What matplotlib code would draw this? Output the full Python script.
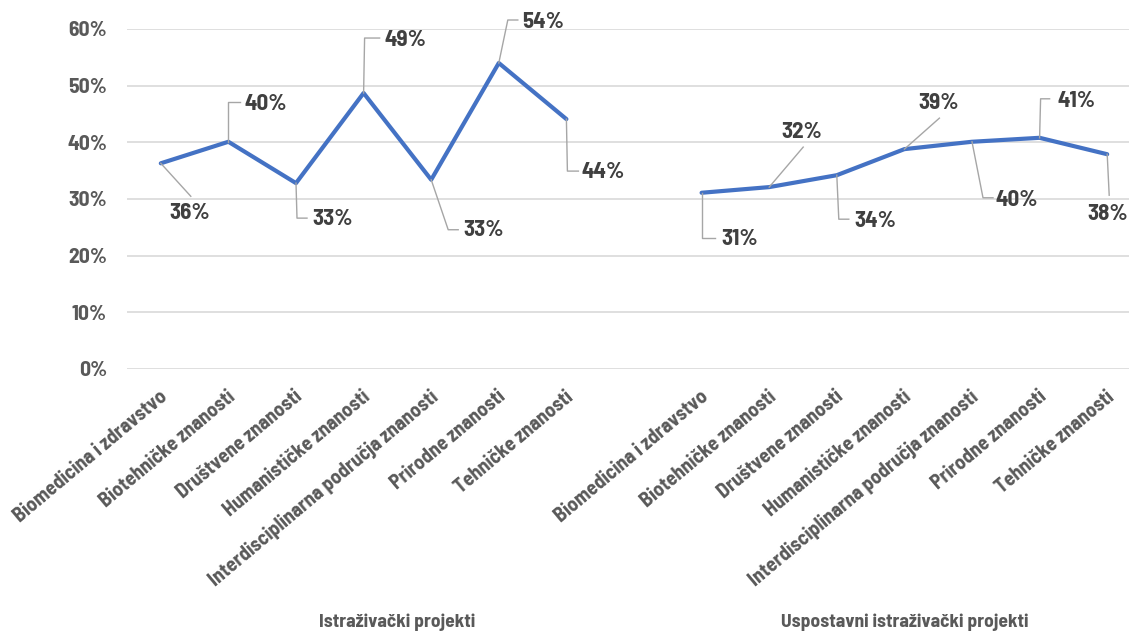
import numpy as np
import matplotlib
matplotlib.use("Agg")
import matplotlib.pyplot as plt
from matplotlib import font_manager
from matplotlib.transforms import Affine2D

# -------------------------------
# DATA
# -------------------------------
categories = ["Biomedicina i zdravstvo", "Biotehničke znanosti", "Društvene znanosti",
              "Humanističke znanosti", "Interdisciplinarna područja znanosti",
              "Prirodne znanosti", "Tehničke znanosti"]
groups = ["Istraživački projekti", "Uspostavni istraživački projekti"]
istrazivacki = [0.363, 0.401, 0.328, 0.487, 0.334, 0.540, 0.441]
uspostavni = [0.311, 0.321, 0.342, 0.388, 0.401, 0.408, 0.379]
y_ticks = [0, 0.1, 0.2, 0.3, 0.4, 0.5, 0.6]

# -------------------------------
# FONT
# -------------------------------
def pick_font(names):
    for n in names:
        try:
            font_manager.findfont(font_manager.FontProperties(family=n), fallback_to_default=False)
            return n
        except Exception:
            pass
    return "DejaVu Sans"

FONT = pick_font(["Barlow Semi Condensed", "Barlow Condensed", "Asap Condensed", "DejaVu Sans"])
plt.rcParams["font.family"] = [FONT, "DejaVu Sans"]
plt.rcParams["font.weight"] = "bold"

# -------------------------------
# LAYOUT / STYLE
# -------------------------------
W, H, DPI = 1129, 635, 100
PT = 72 / DPI  # points per pixel
fig = plt.figure(figsize=(W / DPI, H / DPI), dpi=DPI)
ax = fig.add_axes([127 / W, (H - 369) / H, 1014 / W, 340 / H])

line_color = "#4472C4"
grid_color = "#D9D9D9"
tick_color = "#595959"
label_color = "#404040"
leader_color = "#A6A6A6"

n = len(categories)
x1 = np.arange(n)
x2 = np.arange(n) + n + 1
ax.plot(x1, istrazivacki, color=line_color, lw=3, solid_capstyle="round", zorder=3)
ax.plot(x2, uspostavni, color=line_color, lw=3, solid_capstyle="round", zorder=3)

ax.set_xlim(-0.5, 2 * n + 0.5)
ax.set_ylim(0, 0.6)
ax.set_yticks(y_ticks)
ax.set_yticklabels([f"{int(round(t * 100))}%" for t in y_ticks])
ax.yaxis.grid(True, color=grid_color, lw=1.2)
ax.set_axisbelow(True)
for s in ax.spines.values():
    s.set_visible(False)
ax.tick_params(axis="y", length=0, pad=20 * PT, labelsize=15.5, labelcolor=tick_color)
ax.set_xticks([])

# category labels (rotated) + group labels
for xs in (x1, x2):
    for xi, cat in zip(xs, categories):
        ax.annotate(cat, xy=(xi, 0), xycoords=("data", "axes fraction"),
                    xytext=(-2 * PT, -18 * PT), textcoords="offset points",
                    rotation=40, rotation_mode="anchor", ha="right", va="top",
                    fontsize=14.5, color=tick_color)
# first group also spans the empty slot, second group its own 7 slots
group_centers = [(n - 1 + 1) / 2, n + 1 + (n - 1) / 2]
for gx, g in zip(group_centers, groups):
    ax.annotate(g, xy=(gx, 0), xycoords=("data", "axes fraction"),
                xytext=(0, -253 * PT), textcoords="offset points",
                ha="center", va="center", fontsize=14, color=tick_color)

# -------------------------------
# DATA LABELS with leader lines (pixel offsets, y down)
# -------------------------------
leaders = [
    [(30, 33)], [(0, -40), (12, -40)], [(1, 35), (11, 35)], [(1, -55), (16, -55)],
    [(17, 50), (27, 50)], [(9, -43), (19, -43)], [(1, 52), (12, 52)],
    [(0, 45), (13, 45)], [(34, -40)], [(2, 44), (12, 44)], [(35, -31)],
    [(11, 56), (21, 56)], [(1, -39), (10, -39)], [(2, 41)],
]
label_off = [
    (29, 50), (37, -38), (37, 36), (42, -53), (52, 50), (44, -41), (37, 53),
    (38, 46), (33, -55), (39, 46), (34, -46), (45, 58), (37, -37), (0, 60),
]

fig.canvas.draw()
xs_all = list(x1) + list(x2)
vals_all = istrazivacki + uspostavni
for i, (xi, v) in enumerate(zip(xs_all, vals_all)):
    px, py = ax.transData.transform((xi, v))
    verts = [(0, 0)] + leaders[i]
    lx = [p[0] for p in verts]
    ly = [-p[1] for p in verts]
    fig.add_artist(plt.Line2D(lx, ly, color=leader_color, lw=1,
                              transform=Affine2D().translate(px, py), zorder=2))
    ox, oy = label_off[i]
    fig.text(px + ox, py - oy, f"{v * 100:.0f}%", transform=None,
             ha="center", va="center", fontsize=16.5, color=label_color)

fig.savefig("out.png", dpi=DPI)
